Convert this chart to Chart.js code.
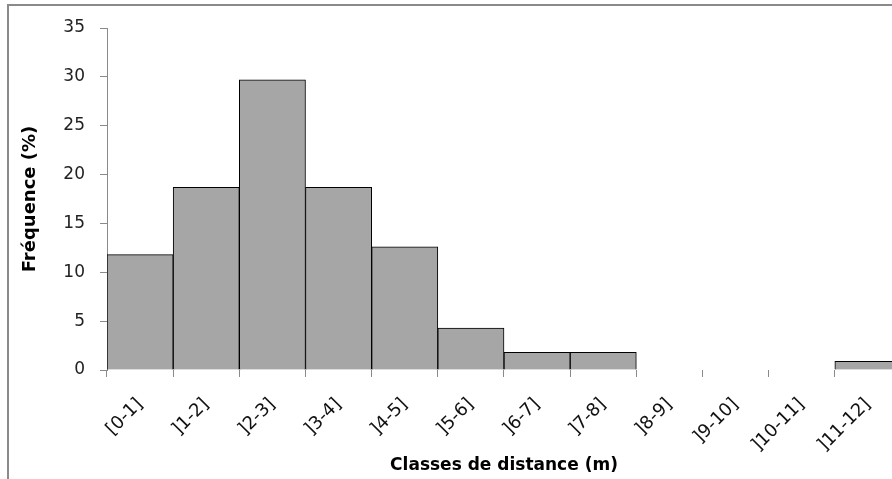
<!DOCTYPE html>
<html>
<head>
<meta charset="utf-8">
<script src="https://cdn.jsdelivr.net/npm/chart.js@4"></script>
<style>
  html, body { margin: 0; padding: 0; background: #fff; }
  body { width: 892px; height: 479px; overflow: hidden; position: relative; }
  #frame {
    position: absolute; left: 7px; top: 4px;
    width: 960px; height: 520px;
    border: 2px solid #8a8a8a;
  }
  #histo { position: absolute; left: 0; top: 0; }
</style>
</head>
<body>
<div id="frame"></div>
<canvas id="histo" width="901" height="479"></canvas>
<script>
const classes = ['[0-1]', ']1-2]', ']2-3]', ']3-4]', ']4-5]', ']5-6]', ']6-7]', ']7-8]', ']8-9]', ']9-10]', ']10-11]', ']11-12]'];
const frequences = [11.8, 18.7, 29.7, 18.7, 12.6, 4.3, 1.8, 1.8, 0, 0, 0, 0.9];
const Y_MAX = 35;
const Y_STEP = 5;

const FONT = "'DejaVu Sans', sans-serif";

const ctx = document.getElementById('histo').getContext('2d');
const histo = new Chart(ctx, {
    type: 'bar',
    data: {
        labels: classes,
        datasets: [{
            label: 'Fréquence (%)',
            data: frequences,
            backgroundColor: '#a6a6a6',
            borderColor: '#000000',
            borderWidth: 1,
            categoryPercentage: 1.0,
            barPercentage: 1.0
        }]
    },
    options: {
        responsive: false,
        animation: false,
        layout: { padding: { left: 0, right: 0, top: 28, bottom: 0 } },
        plugins: {
            legend: { display: false },
            tooltip: { enabled: false }
        },
        scales: {
            x: {
                grid: {
                    display: true,
                    drawOnChartArea: false,
                    drawTicks: true,
                    tickLength: 7,
                    color: '#8a8a8a',
                    offset: true
                },
                border: { display: false },
                ticks: {
                    color: '#111',
                    font: { family: FONT, size: 18 },
                    minRotation: 45,
                    maxRotation: 45,
                    padding: 17,
                    autoSkip: false
                },
                title: {
                    display: true,
                    text: 'Classes de distance (m)',
                    color: '#000',
                    font: { family: FONT, size: 17, weight: 'bold' },
                    padding: { top: 4, bottom: 3 }
                },
                afterFit: (scale) => { scale.height = 109; }
            },
            y: {
                min: 0,
                max: Y_MAX,
                grid: {
                    display: true,
                    drawOnChartArea: false,
                    drawTicks: true,
                    tickLength: 7,
                    color: '#8a8a8a'
                },
                border: { display: true, color: '#8a8a8a', width: 1 },
                ticks: {
                    stepSize: Y_STEP,
                    color: '#222',
                    font: { family: FONT, size: 17 },
                    padding: 15
                },
                title: {
                    display: true,
                    text: 'Fréquence (%)',
                    color: '#000',
                    font: { family: FONT, size: 18, weight: 'bold' },
                    padding: { top: 20, bottom: 4 }
                },
                afterFit: (scale) => { scale.width = 107; }
            }
        }
    }
});
</script>
</body>
</html>
